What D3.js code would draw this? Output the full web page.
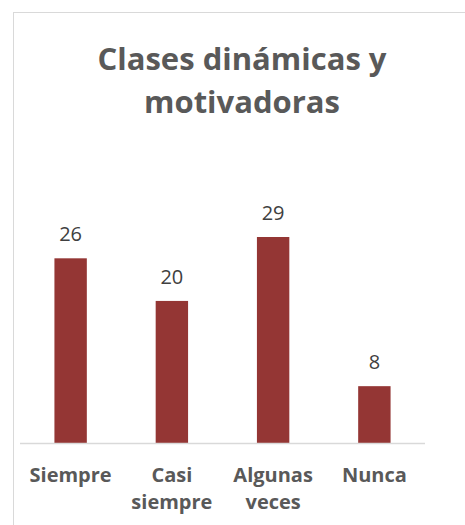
<!DOCTYPE html>
<html>
<head>
<meta charset="utf-8">
<script src="https://cdn.jsdelivr.net/npm/d3@7"></script>
<style>
  body { margin: 0; background: #fff; }
  svg { display: block; }
</style>
</head>
<body>
<svg id="chart"></svg>
<script>
const width = 465;
const height = 525;

const title = ["Clases dinámicas y", "motivadoras"];
const categories = ["Siempre", "Casi siempre", "Algunas veces", "Nunca"];
const categoryLines = [["Siempre"], ["Casi", "siempre"], ["Algunas", "veces"], ["Nunca"]];
const values = [26, 20, 29, 8];

const fontFamily = "'Open Sans', 'Noto Sans', sans-serif";

const svg = d3.select('#chart').attr('width', width).attr('height', height)

// chart area frame (cropped at right and bottom)
svg.append('rect')
    .attr('x', 13.5).attr('y', 12.5)
    .attr('width', 480).attr('height', 540)
    .style('fill', '#fff').style('stroke', '#d9d9d9').style('stroke-width', 1)

const x = d3.scaleBand()
    .domain(categories)
    .range([20, 425])
    .paddingInner(0.68)
    .paddingOuter(0.34)

const y = d3.scaleLinear()
    .domain([0, 29])
    .range([443, 237])

// Title
svg.append('g')
    .selectAll('text')
    .data(title)
    .join('text')
    .attr('x', 242)
    .attr('y', (d, i) => 70 + i * 43)
    .attr('text-anchor', 'middle')
    .style('font-family', fontFamily)
    .style('font-weight', 'bold')
    .style('font-size', '31px')
    .style('fill', '#595959')
    .text(d => d)

// Bars
svg.append('g')
    .selectAll('rect')
    .data(values)
    .join('rect')
    .attr('x', (d, i) => x(categories[i]))
    .attr('y', d => y(d))
    .attr('width', x.bandwidth())
    .attr('height', d => y(0) - y(d))
    .style('fill', '#943634')

// Axis line
svg.append('line')
    .attr('x1', 20).attr('x2', 425)
    .attr('y1', y(0) + 0.5).attr('y2', y(0) + 0.5)
    .style('stroke', '#d9d9d9').style('stroke-width', 1.3)

// Value labels
svg.append('g')
    .selectAll('text')
    .data(values)
    .join('text')
    .attr('x', (d, i) => x(categories[i]) + x.bandwidth() / 2)
    .attr('y', d => y(d) - 17)
    .attr('text-anchor', 'middle')
    .style('font-family', fontFamily)
    .style('font-size', '20px')
    .style('fill', '#404040')
    .text(d => d)

// Category labels
const cat = svg.append('g')
    .selectAll('text')
    .data(categoryLines)
    .join('text')
    .attr('x', (d, i) => x(categories[i]) + x.bandwidth() / 2)
    .attr('y', 482)
    .attr('text-anchor', 'middle')
    .style('font-family', fontFamily)
    .style('font-weight', 'bold')
    .style('font-size', '20px')
    .style('fill', '#595959')

cat.selectAll('tspan')
    .data(d => d)
    .join('tspan')
    .attr('x', function () { return d3.select(this.parentNode).attr('x') })
    .attr('dy', (d, i) => i === 0 ? 0 : 27)
    .text(d => d)
</script>
</body>
</html>
